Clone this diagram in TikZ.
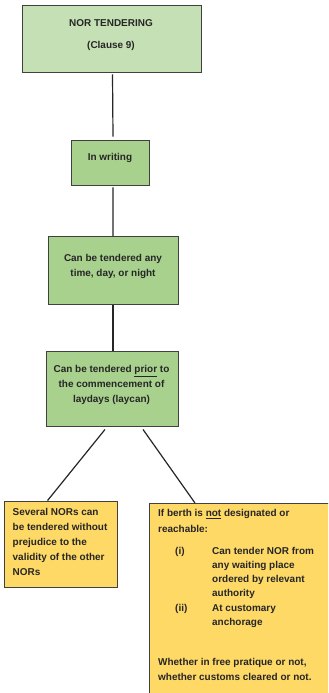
\documentclass[tikz,border=0pt]{standalone}
\usepackage{fontspec}
\setmainfont{Liberation Sans}
\definecolor{lgreen}{RGB}{197,224,180}
\definecolor{mgreen}{RGB}{169,209,142}
\definecolor{ylw}{RGB}{255,217,102}
\definecolor{edge}{RGB}{64,64,64}
\definecolor{wire}{RGB}{38,38,38}
\tikzset{
  box/.style={draw=edge, line width=0.9bp, inner sep=0pt, rectangle},
  txt/.style={font=\bfseries\fontsize{10}{15}\selectfont, text=black!85, inner sep=0pt, align=center},
  ltxt/.style={txt, align=left, anchor=west},
  conn/.style={draw=wire, line width=1.2bp}
}
\begin{document}
\begin{tikzpicture}[x=1bp,y=-1bp]
\useasboundingbox (0,0) rectangle (328,693);
\fill[white] (0,0) rectangle (328,693);
\clip (0,0) rectangle (328,693);
% boxes
\node[box, fill=lgreen, minimum width=179bp, minimum height=67bp] (b1) at (111.5,38.5) {};
\node[box, fill=mgreen, minimum width=78bp, minimum height=45bp] (b2) at (110,162.5) {};
\node[box, fill=mgreen, minimum width=130bp, minimum height=67.5bp] (b3) at (113,270.5) {};
\node[box, fill=mgreen, minimum width=132bp, minimum height=75bp] (b4) at (112,388.5) {};
\node[box, fill=ylw, minimum width=113bp, minimum height=86bp] (b5) at (60.5,544) {};
\node[box, fill=ylw, anchor=north west, minimum width=200bp, minimum height=200bp] (b6) at (149,503) {};
% texts
\node[txt] (t1a) at (111,23) {NOR TENDERING};
\node[txt] (t1b) at (111,46) {(Clause 9)};
\node[txt] (t2) at (110,158) {In writing};
\node[txt] (t3) at (113,266.5) {Can be tendered any\\time, day, or night};
\node[txt] (t4) at (111.5,385) {Can be tendered \underline{prior} to\\the commencement of\\laydays (laycan)};
\node[ltxt] (t5) at (12.5,542) {Several NORs can\\be tendered without\\prejudice to the\\validity of the other\\NORs};
\node[ltxt, font=\bfseries\fontsize{10}{15.5}\selectfont] (t6a) at (158,521) {If berth is \underline{not} designated or\\reachable:};
\node[ltxt] (t6i) at (175,552) {(i)};
\node[ltxt, font=\bfseries\fontsize{10}{14}\selectfont] (t6it) at (212,573.3) {Can tender NOR from\\any waiting place\\ordered by relevant\\authority};
\node[ltxt] (t6ii) at (175,609) {(ii)};
\node[ltxt, font=\bfseries\fontsize{10}{14.3}\selectfont] (t6iit) at (212,616.2) {At customary\\anchorage};
\node[ltxt] (t6f) at (158,669.5) {Whether in free pratique or not,\\whether customs cleared or not.};
% connectors
\draw[conn] ([xshift=1bp,yshift=-2bp]b1.south) -- ([xshift=3bp,yshift=3bp]b2.north);
\draw[conn] ([xshift=3bp,yshift=-2bp]b2.south) -- (b3.north);
\draw[conn] (b3.south) -- ([xshift=1bp]b4.north);
\coordinate (l1s) at ([xshift=-7bp,yshift=-3bp]b4.south);
\coordinate (l1e) at ([xshift=44bp]b5.north west);
\coordinate (l2s) at ([xshift=31bp,yshift=-3bp]b4.south);
\coordinate (l2e) at ([xshift=46bp]b6.north west);
\draw[conn] (l1s) -- (l1e);
\draw[conn] (l2s) -- (l2e);
\end{tikzpicture}
\end{document}
